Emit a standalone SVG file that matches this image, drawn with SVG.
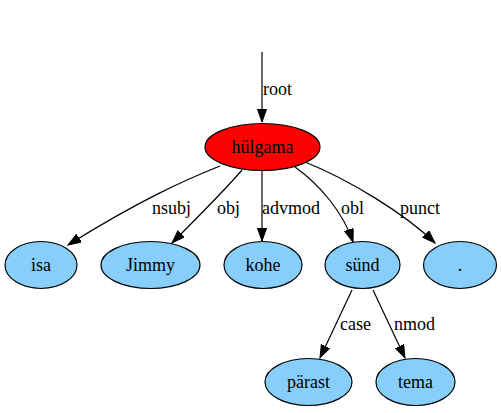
<svg xmlns="http://www.w3.org/2000/svg" width="501" height="413" viewBox="0 0 501 413">
<style>
  text { font-family: "Liberation Serif", "Times New Roman", serif; font-size: 18px; fill: #000; }
  .node text { text-anchor: middle; }
  .node ellipse { stroke: #000; stroke-width: 1.2; fill: #87cefa; }
  #n_hulgama ellipse { fill: #ff0000; }
  .edge path { fill: none; stroke: #000; stroke-width: 1.2; marker-end: url(#arrow); }
</style>
<defs>
  <marker id="arrow" markerUnits="userSpaceOnUse" markerWidth="14" markerHeight="10" refX="13" refY="4.6" orient="auto">
    <path d="M0,0 L13,4.6 L0,9.2 z" fill="#000" stroke="#000" stroke-width="1"/>
  </marker>
</defs>
<rect width="501" height="413" fill="#fff"/>
<g id="edges" class="edge">
  <path d="M262,52 L262,122"/>
  <text x="263" y="95">root</text>
  <path d="M220,166 C185,180 140,200 68,245"/>
  <text x="152" y="214">nsubj</text>
  <path d="M242,170 C225,190 200,215 172,243"/>
  <text x="217" y="214">obj</text>
  <path d="M262,171 L262,241"/>
  <text x="262" y="214">advmod</text>
  <path d="M295,167 C320,185 343,212 353,242"/>
  <text x="341" y="214">obl</text>
  <path d="M305,162 C350,180 405,214 435,243"/>
  <text x="400" y="214">punct</text>
  <path d="M352,290 L320,358"/>
  <text x="340" y="330">case</text>
  <path d="M373,290 L405,358"/>
  <text x="394" y="330">nmod</text>
</g>
<g id="n_hulgama" class="node"><ellipse cx="262.5" cy="147" rx="57.5" ry="23.5"/><text x="262.5" y="153">hülgama</text></g>
<g id="n_isa" class="node"><ellipse cx="41" cy="265" rx="36" ry="23.5"/><text x="41" y="271">isa</text></g>
<g id="n_jimmy" class="node"><ellipse cx="150.5" cy="265" rx="49.5" ry="23.5"/><text x="150.5" y="271">Jimmy</text></g>
<g id="n_kohe" class="node"><ellipse cx="263" cy="265" rx="39" ry="23.5"/><text x="263" y="271">kohe</text></g>
<g id="n_sund" class="node"><ellipse cx="362.5" cy="265" rx="37.5" ry="23.5"/><text x="362.5" y="271">sünd</text></g>
<g id="n_punct" class="node"><ellipse cx="460" cy="265" rx="36.5" ry="23.5"/><text x="460" y="271">.</text></g>
<g id="n_parast" class="node"><ellipse cx="308.5" cy="382" rx="43.5" ry="23.5"/><text x="308.5" y="388">pärast</text></g>
<g id="n_tema" class="node"><ellipse cx="415.5" cy="382" rx="39.5" ry="23.5"/><text x="415.5" y="388">tema</text></g>
</svg>
